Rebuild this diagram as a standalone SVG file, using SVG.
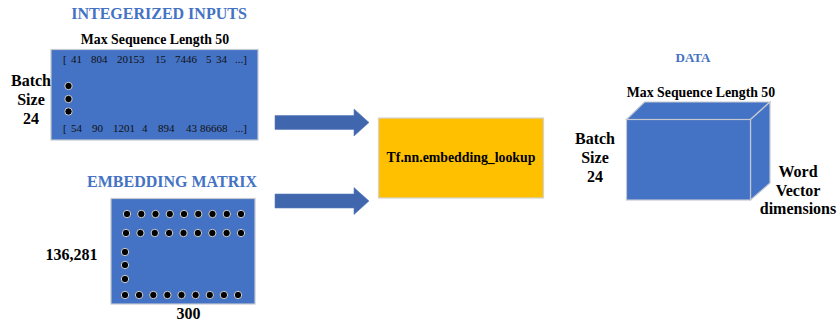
<svg xmlns="http://www.w3.org/2000/svg" width="837" height="324" viewBox="0 0 837 324" font-family="'Liberation Serif', 'DejaVu Serif', serif">
  <style>
    text { font-family: 'Liberation Serif', 'DejaVu Serif', serif; }
    .title { font-weight: bold; font-size: 16px; fill: #4472C4; }
    .small-title { font-weight: bold; font-size: 13px; fill: #4472C4; }
    .lbl { font-weight: bold; font-size: 16px; fill: #000; }
    .hdr { font-weight: bold; font-size: 13.8px; fill: #000; }
    .num { font-size: 11px; fill: #111; }
    .blue { fill: #4472C4; stroke: #C4C8D0; stroke-width: 1.2; }
    .dot { fill: #000; stroke: #D0D0D0; stroke-width: 1; }
    .arrow { fill: #4066AE; stroke: #5C7EBE; stroke-width: 0.6; }
  </style>

  <!-- integerized inputs matrix -->
  <g id="integerized-inputs">
    <text class="title" x="159" y="19" text-anchor="middle">INTEGERIZED INPUTS</text>
    <text class="hdr" x="155" y="44" text-anchor="middle">Max Sequence Length 50</text>
    <rect class="blue" x="51" y="49.5" width="207" height="90.5"/>
    <text class="num" y="63">
      <tspan x="63">[</tspan><tspan x="71">41</tspan><tspan x="91">804</tspan><tspan x="117">20153</tspan><tspan x="155">15</tspan><tspan x="175">7446</tspan><tspan x="206">5</tspan><tspan x="216">34</tspan><tspan x="235">...]</tspan>
    </text>
    <text class="num" y="132">
      <tspan x="63">[</tspan><tspan x="71">54</tspan><tspan x="92">90</tspan><tspan x="113">1201</tspan><tspan x="142">4</tspan><tspan x="158">894</tspan><tspan x="186">43</tspan><tspan x="200">86668</tspan><tspan x="235">...]</tspan>
    </text>
    <circle class="dot" cx="68.5" cy="86" r="3.7"/>
    <circle class="dot" cx="68.5" cy="99" r="3.7"/>
    <circle class="dot" cx="68.5" cy="111.5" r="3.7"/>
    <text class="lbl" text-anchor="middle"><tspan x="31" y="86">Batch</tspan><tspan x="31" y="105">Size</tspan><tspan x="31" y="124">24</tspan></text>
  </g>

  <!-- embedding matrix -->
  <g id="embedding-matrix">
    <text class="title" x="172" y="187" text-anchor="middle">EMBEDDING MATRIX</text>
    <rect class="blue" x="111" y="198.5" width="144" height="105.5"/>
    <g id="emb-row1">
      <circle class="dot" cx="127" cy="214" r="3.7"/><circle class="dot" cx="141.3" cy="214" r="3.7"/><circle class="dot" cx="155.5" cy="214" r="3.7"/><circle class="dot" cx="169.8" cy="214" r="3.7"/><circle class="dot" cx="184" cy="214" r="3.7"/><circle class="dot" cx="198.3" cy="214" r="3.7"/><circle class="dot" cx="212.5" cy="214" r="3.7"/><circle class="dot" cx="226.8" cy="214" r="3.7"/><circle class="dot" cx="241" cy="214" r="3.7"/>
    </g>
    <g id="emb-row2">
      <circle class="dot" cx="126" cy="233" r="3.7"/><circle class="dot" cx="140.4" cy="233" r="3.7"/><circle class="dot" cx="154.8" cy="233" r="3.7"/><circle class="dot" cx="169.1" cy="233" r="3.7"/><circle class="dot" cx="183.5" cy="233" r="3.7"/><circle class="dot" cx="197.9" cy="233" r="3.7"/><circle class="dot" cx="212.3" cy="233" r="3.7"/><circle class="dot" cx="226.6" cy="233" r="3.7"/><circle class="dot" cx="241" cy="233" r="3.7"/>
    </g>
    <g id="emb-col">
      <circle class="dot" cx="125" cy="252" r="3.7"/><circle class="dot" cx="125" cy="265" r="3.7"/><circle class="dot" cx="125" cy="279" r="3.7"/>
    </g>
    <g id="emb-row-last">
      <circle class="dot" cx="125" cy="295" r="3.7"/><circle class="dot" cx="139.1" cy="295" r="3.7"/><circle class="dot" cx="153.3" cy="295" r="3.7"/><circle class="dot" cx="167.4" cy="295" r="3.7"/><circle class="dot" cx="181.5" cy="295" r="3.7"/><circle class="dot" cx="195.6" cy="295" r="3.7"/><circle class="dot" cx="209.8" cy="295" r="3.7"/><circle class="dot" cx="223.9" cy="295" r="3.7"/><circle class="dot" cx="238" cy="295" r="3.7"/>
    </g>
    <text class="lbl" x="71.5" y="260" text-anchor="middle">136,281</text>
    <text class="lbl" x="188.5" y="319" text-anchor="middle">300</text>
  </g>

  <!-- block arrows -->
  <g id="connectors">
    <polygon class="arrow" points="275,115.5 354,115.5 354,109 369,122.5 354,136 354,129.5 275,129.5"/>
    <polygon class="arrow" points="275,194 354,194 354,187.5 369,201 354,214.5 354,208 275,208"/>
  </g>

  <!-- lookup operation -->
  <g id="embedding-lookup">
    <rect x="378.5" y="118" width="165" height="80" fill="#FFC000" stroke="#D3D3D3" stroke-width="1.2"/>
    <text class="hdr" x="461" y="162" text-anchor="middle">Tf.nn.embedding_lookup</text>
  </g>

  <!-- output tensor -->
  <g id="data">
    <text class="small-title" x="693" y="62" text-anchor="middle">DATA</text>
    <text class="hdr" x="701" y="97" text-anchor="middle">Max Sequence Length 50</text>
    <polygon class="blue" points="626.5,119.5 644.5,102 770,102 750.5,119.5"/>
    <polygon class="blue" points="750.5,119.5 770,102 770,183 750.5,200"/>
    <rect class="blue" x="626.5" y="119.5" width="124" height="80.5"/>
    <text class="lbl" text-anchor="middle"><tspan x="595" y="144">Batch</tspan><tspan x="595" y="163">Size</tspan><tspan x="595" y="182">24</tspan></text>
    <text class="lbl" text-anchor="middle"><tspan x="798" y="177">Word</tspan><tspan x="798" y="196">Vector</tspan><tspan x="798" y="214">dimensions</tspan></text>
  </g>
</svg>
